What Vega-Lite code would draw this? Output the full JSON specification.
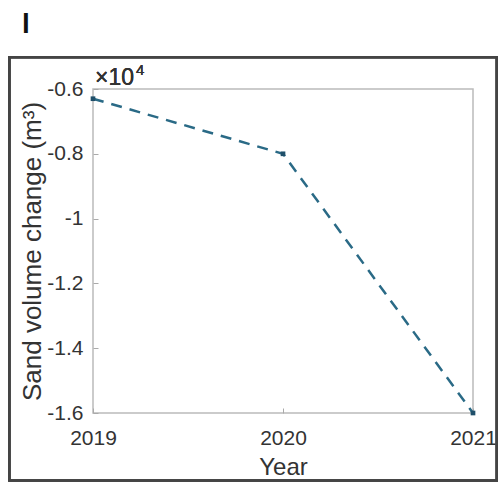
{
  "$schema": "https://vega.github.io/schema/vega-lite/v6.json",
  "width": 380,
  "height": 324,
  "autosize": {"type": "none"},
  "padding": {"left": 93, "top": 89, "right": 29, "bottom": 70},
  "background": "white",
  "title": {
    "text": "l",
    "anchor": "start",
    "frame": "group",
    "dx": -71,
    "offset": 17,
    "font": "Liberation Sans",
    "fontSize": 28,
    "fontWeight": "bold",
    "color": "#111111"
  },
  "config": {
    "view": {"stroke": "#bbbbbb", "strokeWidth": 1.5},
    "font": "Liberation Sans",
    "axis": {"labelOverlap": false, "labelBound": false, "labelFlush": false}
  },
  "data": {
    "values": [
      {"Year": 2019, "Change": -6300},
      {"Year": 2020, "Change": -8000},
      {"Year": 2021, "Change": -16000}
    ]
  },
  "encoding": {
    "x": {
      "field": "Year",
      "type": "quantitative",
      "scale": {"domain": [2019, 2021], "nice": false, "zero": false},
      "axis": {
        "values": [2019, 2020, 2021],
        "labelExpr": "'' + datum.value",
        "labelOverlap": false,
        "title": "Year",
        "titleFont": "Liberation Sans",
        "titleFontSize": 24,
        "titleFontWeight": "normal",
        "titleColor": "#333333",
        "titlePadding": 7,
        "labelFont": "Liberation Sans",
        "labelFontSize": 21,
        "labelColor": "#333333",
        "labelPadding": 19,
        "labelFlush": false,
        "domain": false,
        "grid": false,
        "tickSize": -5,
        "tickColor": "#aaaaaa"
      }
    },
    "y": {
      "field": "Change",
      "type": "quantitative",
      "scale": {"domain": [-16000, -6000], "nice": false, "zero": false},
      "axis": {
        "values": [-16000, -14000, -12000, -10000, -8000, -6000],
        "labelExpr": "'' + (datum.value / 10000)",
        "labelOverlap": false,
        "title": "Sand volume change (m³)",
        "titleFont": "Liberation Sans",
        "titleFontSize": 26,
        "titleFontWeight": "normal",
        "titleColor": "#333333",
        "titlePadding": 1,
        "labelFont": "Liberation Sans",
        "labelFontSize": 21,
        "labelColor": "#333333",
        "labelPadding": 15,
        "labelFlush": false,
        "domain": false,
        "grid": false,
        "tickSize": -5,
        "tickColor": "#aaaaaa"
      }
    }
  },
  "layer": [
    {
      "mark": {"type": "line", "color": "#2a6a86", "strokeWidth": 2.5, "strokeDash": [11, 8]}
    },
    {
      "mark": {"type": "point", "shape": "square", "filled": true, "size": 22, "color": "#1f4f6a", "opacity": 1}
    },
    {
      "mark": {"type": "rect", "fill": null, "stroke": "#444444", "strokeWidth": 2.5, "clip": false},
      "encoding": {
        "x": {"datum": 2018.56, "type": "quantitative"},
        "x2": {"datum": 2021.125},
        "y": {"datum": -5020, "type": "quantitative"},
        "y2": {"datum": -18080}
      }
    },
    {
      "mark": {"type": "text", "text": "×10", "align": "left", "baseline": "alphabetic", "dx": 2, "dy": -4, "fontSize": 23, "font": "Liberation Sans", "color": "#333333", "clip": false},
      "encoding": {
        "x": {"datum": 2019, "type": "quantitative"},
        "y": {"datum": -6000, "type": "quantitative"}
      }
    },
    {
      "mark": {"type": "text", "text": "4", "align": "left", "baseline": "alphabetic", "dx": 43, "dy": -14, "fontSize": 15, "font": "Liberation Sans", "color": "#333333", "clip": false},
      "encoding": {
        "x": {"datum": 2019, "type": "quantitative"},
        "y": {"datum": -6000, "type": "quantitative"}
      }
    }
  ]
}
